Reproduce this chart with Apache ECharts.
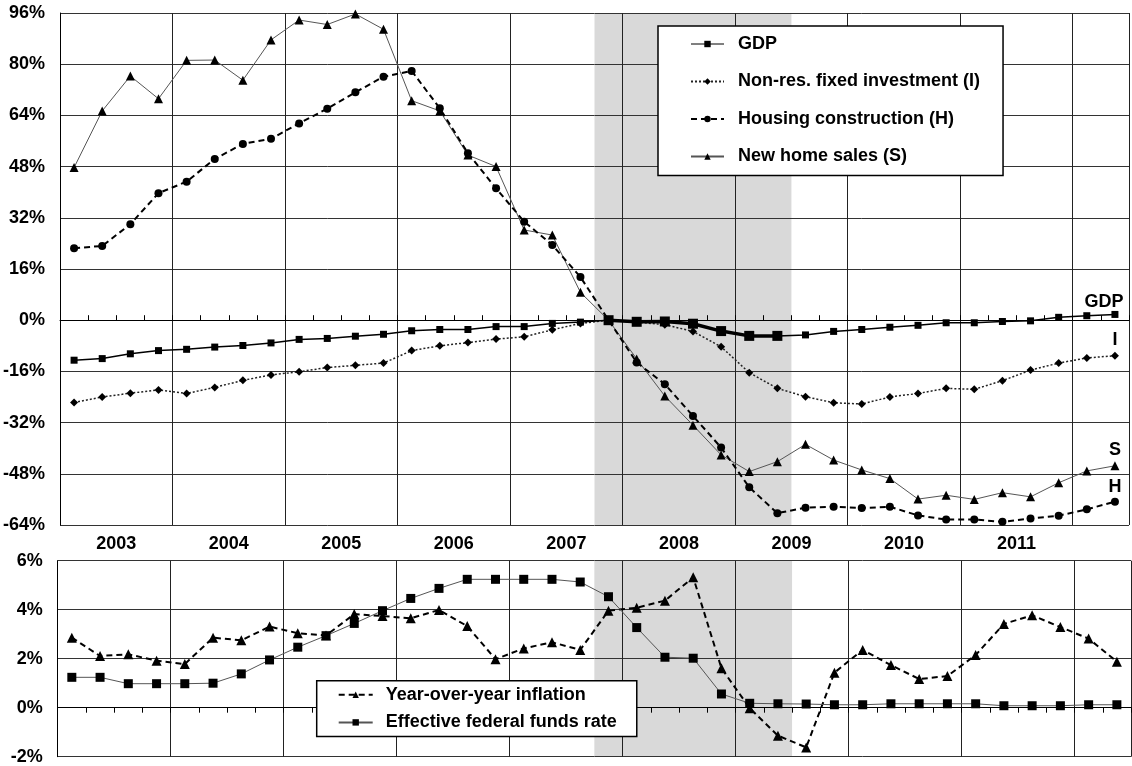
<!DOCTYPE html>
<html>
<head>
<meta charset="utf-8">
<script src="https://cdn.jsdelivr.net/npm/echarts/dist/echarts.min.js"></script>
<style>
html,body{margin:0;padding:0;background:#fff;}
#c{width:1132px;height:766px;}
</style>
</head>
<body>
<div id="c"></div>
<script>
// ---- data (quarterly, 2003Q1 .. 2012Q2) ----
const quarters = ['2003Q1','2003Q2','2003Q3','2003Q4','2004Q1','2004Q2','2004Q3','2004Q4',
  '2005Q1','2005Q2','2005Q3','2005Q4','2006Q1','2006Q2','2006Q3','2006Q4',
  '2007Q1','2007Q2','2007Q3','2007Q4','2008Q1','2008Q2','2008Q3','2008Q4',
  '2009Q1','2009Q2','2009Q3','2009Q4','2010Q1','2010Q2','2010Q3','2010Q4',
  '2011Q1','2011Q2','2011Q3','2011Q4','2012Q1','2012Q2'];
const yearLabels = ['2003','2004','2005','2006','2007','2008','2009','2010','2011'];
const topTicks = [-64,-48,-32,-16,0,16,32,48,64,80,96];
const bottomTicks = [-2,0,2,4,6];
const recessionStart = '2007Q4';
const recessionEnd = '2009Q2';

const gdp = [-12.5,-12.0,-10.5,-9.5,-9.1,-8.4,-7.9,-7.1,-6.0,-5.7,-5.0,-4.4,
  -3.3,-2.9,-2.9,-2.0,-2.0,-1.0,-0.6,
  0,-0.5,-0.4,-1.1,-3.4,-4.9,-4.9,-4.6,-3.5,-2.9,-2.2,-1.6,-0.8,-0.8,-0.4,-0.2,0.9,1.4,1.8];
const investment = [-25.7,-24.0,-22.8,-21.8,-22.9,-21.0,-18.8,-17.1,-16.1,-14.8,-14.1,-13.4,
  -9.5,-8.0,-7.0,-5.9,-5.2,-3.0,-1.0,
  0,-0.6,-1.4,-3.5,-8.3,-16.4,-21.3,-23.9,-25.8,-26.2,-24.0,-22.9,-21.3,-21.6,-18.9,-15.6,-13.4,-11.8,-11.1];
const housing = [22.5,23.2,30.0,39.7,43.3,50.4,55.1,56.7,61.5,66.1,71.2,76.1,
  77.9,66.2,52.2,41.2,30.8,23.5,13.5,
  0,-13.2,-20.0,-29.9,-39.8,-52.2,-60.3,-58.6,-58.3,-58.7,-58.3,-61.0,-62.3,-62.3,-63.0,-62.0,-61.1,-59.1,-56.7];
const sales = [47.7,65.4,76.3,69.2,81.2,81.3,75.0,87.6,93.8,92.4,95.7,90.9,
  68.6,65.4,51.6,48.0,28.2,26.6,8.7,
  0,-12.1,-23.7,-32.8,-42.1,-47.3,-44.2,-38.8,-43.7,-46.8,-49.5,-55.9,-54.7,-56.0,-53.9,-55.2,-50.8,-47.1,-45.5];
const inflation = [2.86,2.11,2.18,1.92,1.78,2.86,2.75,3.31,3.04,2.95,3.82,3.74,
  3.65,3.99,3.33,1.98,2.42,2.67,2.36,
  3.96,4.08,4.37,5.32,1.61,-0.02,-1.14,-1.62,
  1.43,2.36,1.74,1.17,1.29,2.15,3.42,3.77,3.29,2.82,1.88];
const fedFunds = [1.24,1.24,0.98,0.98,0.98,1.0,1.38,1.95,2.47,2.94,3.44,3.96,
  4.46,4.87,5.24,5.24,5.24,5.24,5.13,
  4.53,3.27,2.06,2.02,0.56,0.18,0.16,0.15,
  0.12,0.12,0.16,0.16,0.16,0.16,0.08,0.08,0.08,0.12,0.12];

// ---- chart ----
const FONT = '"Liberation Sans", Arial, sans-serif';
const lbl = {fontFamily: FONT, fontWeight: 'bold', fontSize: 18, color: '#000'};
const qx = i => i + 0.5;              // centre of quarter band i
const toXY = arr => arr.map((v, i) => [qx(i), v]);
function withEnd(arr, text, off) {
  return arr.map((v, i) => i === arr.length - 1
    ? {value: [qx(i), v], label: Object.assign({show: true, formatter: text, position: 'inside', offset: off}, lbl)}
    : [qx(i), v]);
}
const rs = quarters.indexOf(recessionStart), re = quarters.indexOf(recessionEnd) + 1;
const gdpRecession = gdp.map((v, i) => [qx(i), v]).filter((p, i) => i >= rs && i < re);

const nq = quarters.length;
function dataAxis(g, pos) {
  return {gridIndex: g, type: 'value', min: 0, max: nq, interval: 1, position: pos,
    axisLine: {show: true, lineStyle: {color: '#000', width: 1}},
    axisTick: {show: true, inside: true, length: 5, lineStyle: {color: '#000'}},
    axisLabel: {show: false}, splitLine: {show: false}};
}
function yearGridAxis(g, pos) {
  return {gridIndex: g, type: 'value', min: 0, max: nq, interval: 4, position: pos,
    axisLine: {show: false}, axisTick: {show: false}, axisLabel: {show: false},
    splitLine: {show: true, lineStyle: {color: '#222', width: 1}}};
}

const option = {
  animation: false,
  backgroundColor: '#fff',
  grid: [
    {left: 57.7, right: 1, top: 13, height: 512},
    {left: 57.7, right: 1, top: 560.7, height: 196}
  ],
  xAxis: [
    dataAxis(0, 'bottom'),
    yearGridAxis(0, 'bottom'),
    {gridIndex: 0, type: 'value', min: -2, max: nq - 2, interval: 2, position: 'bottom',
      axisLine: {show: false}, axisTick: {show: false}, splitLine: {show: false},
      axisLabel: Object.assign({margin: 10, formatter: v => {
        const k = Math.round(v);
        return (k >= 0 && k % 4 === 0 && k / 4 < yearLabels.length) ? yearLabels[k / 4] : '';
      }}, lbl)},
    dataAxis(1, 'top'),
    yearGridAxis(1, 'top')
  ],
  yAxis: [
    {gridIndex: 0, type: 'value', min: topTicks[0], max: topTicks[topTicks.length - 1], interval: 16,
      axisLine: {show: true, lineStyle: {color: '#000'}}, axisTick: {show: false},
      axisLabel: Object.assign({margin: 15, formatter: '{value}%'}, lbl),
      splitLine: {show: true, lineStyle: {color: '#333', width: 1}}},
    {gridIndex: 1, type: 'value', min: bottomTicks[0], max: bottomTicks[bottomTicks.length - 1], interval: 2,
      axisLine: {show: true, lineStyle: {color: '#000'}}, axisTick: {show: false},
      axisLabel: Object.assign({margin: 15, formatter: '{value}%'}, lbl),
      splitLine: {show: true, lineStyle: {color: '#333', width: 1}}}
  ],
  legend: [
    {data: [{name: 'GDP', lineStyle: {width: 1}}, 'Non-res. fixed investment (I)', 'Housing construction (H)', 'New home sales (S)'],
      orient: 'vertical', left: 658, top: 26, padding: [9, 23, 10, 32],
      itemWidth: 33, itemHeight: 8, itemGap: 19.5,
      backgroundColor: '#fff', borderColor: '#000', borderWidth: 1.5,
      textStyle: Object.assign({padding: [0, 0, 0, 9]}, lbl)},
    {data: ['Year-over-year inflation', 'Effective federal funds rate'],
      orient: 'vertical', left: 316.7, top: 680.7, padding: [5, 20, 5, 21],
      itemWidth: 34, itemHeight: 8, itemGap: 9.7,
      backgroundColor: '#fff', borderColor: '#000', borderWidth: 1.5,
      textStyle: Object.assign({padding: [0, 0, 0, 8]}, lbl)}
  ],
  series: [
    {name: 'shadeTop', type: 'line', xAxisIndex: 0, yAxisIndex: 0, data: [], z: -1, silent: true,
      markArea: {silent: true, z: -1, itemStyle: {color: '#d9d9d9'}, data: [[{xAxis: rs}, {xAxis: re}]]}},
    {name: 'shadeBottom', type: 'line', xAxisIndex: 3, yAxisIndex: 1, data: [], z: -1, silent: true,
      markArea: {silent: true, z: -1, itemStyle: {color: '#d9d9d9'}, data: [[{xAxis: rs}, {xAxis: re}]]}},
    {name: 'New home sales (S)', type: 'line', xAxisIndex: 0, yAxisIndex: 0,
      data: withEnd(sales, 'S', [0, -16]), symbol: 'triangle', symbolSize: 9,
      itemStyle: {color: '#000'}, lineStyle: {color: '#555', width: 1}},
    {name: 'Housing construction (H)', type: 'line', xAxisIndex: 0, yAxisIndex: 0,
      data: withEnd(housing, 'H', [0, -15]), symbol: 'circle', symbolSize: 8,
      itemStyle: {color: '#000'}, lineStyle: {color: '#000', width: 2, type: [6, 4]}},
    {name: 'Non-res. fixed investment (I)', type: 'line', xAxisIndex: 0, yAxisIndex: 0,
      data: withEnd(investment, 'I', [0, -16]), symbol: 'diamond', symbolSize: 8,
      itemStyle: {color: '#000'}, lineStyle: {color: '#222', width: 1.5, type: [2, 2]}},
    {name: 'GDP', type: 'line', xAxisIndex: 0, yAxisIndex: 0,
      data: withEnd(gdp, 'GDP', [-11, -12]), symbol: 'rect', symbolSize: 7,
      itemStyle: {color: '#000'}, lineStyle: {color: '#000', width: 1.5}},
    {name: 'GDP (recession)', type: 'line', xAxisIndex: 0, yAxisIndex: 0,
      data: gdpRecession, symbol: 'rect', symbolSize: 10,
      itemStyle: {color: '#000'}, lineStyle: {color: '#000', width: 3.5}},
    {name: 'Year-over-year inflation', type: 'line', xAxisIndex: 3, yAxisIndex: 1,
      data: toXY(inflation), symbol: 'triangle', symbolSize: 10,
      itemStyle: {color: '#000'}, lineStyle: {color: '#000', width: 2, type: [6, 4]}},
    {name: 'Effective federal funds rate', type: 'line', xAxisIndex: 3, yAxisIndex: 1,
      data: toXY(fedFunds), symbol: 'rect', symbolSize: 9,
      itemStyle: {color: '#000'}, lineStyle: {color: '#555', width: 1}}
  ]
};
const chart = echarts.init(document.getElementById('c'));
chart.setOption(option);
</script>
</body>
</html>
